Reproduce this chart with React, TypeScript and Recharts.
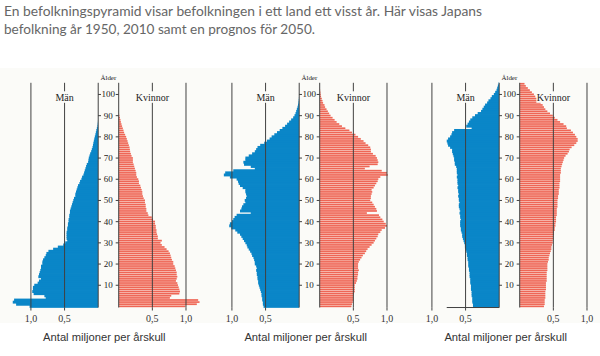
import React from 'react';
import { BarChart, Bar, XAxis, YAxis, ReferenceLine } from 'recharts';

// Age categories 0..105
const ages = [
  0, 1, 2, 3, 4, 5, 6, 7, 8, 9, 10, 11, 12, 13, 14, 15, 16, 17, 18, 19,
  20, 21, 22, 23, 24, 25, 26, 27, 28, 29, 30, 31, 32, 33, 34, 35, 36, 37, 38, 39,
  40, 41, 42, 43, 44, 45, 46, 47, 48, 49, 50, 51, 52, 53, 54, 55, 56, 57, 58, 59,
  60, 61, 62, 63, 64, 65, 66, 67, 68, 69, 70, 71, 72, 73, 74, 75, 76, 77, 78, 79,
  80, 81, 82, 83, 84, 85, 86, 87, 88, 89, 90, 91, 92, 93, 94, 95, 96, 97, 98, 99,
  100, 101, 102, 103, 104, 105,
];

// Millions per one-year cohort
const male1950 = [
  1.02, 1.22, 1.27, 1.25, 0.78, 0.8, 0.96, 0.98, 0.97, 0.97,
  0.95, 0.9, 0.88, 0.85, 0.89, 0.88, 0.87, 0.86, 0.85, 0.85,
  0.83, 0.83, 0.82, 0.8, 0.78, 0.77, 0.74, 0.67, 0.6, 0.52,
  0.49, 0.46, 0.47, 0.47, 0.47, 0.47, 0.46, 0.46, 0.45, 0.45,
  0.44, 0.44, 0.43, 0.43, 0.42, 0.42, 0.41, 0.4, 0.39, 0.38,
  0.37, 0.36, 0.34, 0.34, 0.33, 0.32, 0.31, 0.3, 0.28, 0.27,
  0.25, 0.24, 0.22, 0.21, 0.2, 0.19, 0.18, 0.17, 0.15, 0.145,
  0.14, 0.13, 0.12, 0.105, 0.095, 0.085, 0.078, 0.072, 0.065, 0.058,
  0.05, 0.042, 0.035, 0.028, 0.02, 0.012, 0.008, 0.005, 0.003, 0.002,
  0.001, 0, 0, 0, 0, 0, 0, 0, 0, 0,
  0, 0, 0, 0, 0, 0,
];
const female1950 = [
  0.99, 1.16, 1.2, 1.18, 0.76, 0.78, 0.9, 0.91, 0.9, 0.89,
  0.88, 0.87, 0.85, 0.86, 0.87, 0.86, 0.86, 0.85, 0.84, 0.83,
  0.81, 0.81, 0.79, 0.78, 0.77, 0.76, 0.74, 0.71, 0.68, 0.64,
  0.62, 0.64, 0.58, 0.58, 0.57, 0.56, 0.56, 0.55, 0.55, 0.54,
  0.54, 0.51, 0.49, 0.44, 0.43, 0.41, 0.41, 0.4, 0.4, 0.39,
  0.39, 0.37, 0.36, 0.35, 0.35, 0.34, 0.33, 0.32, 0.3, 0.3,
  0.29, 0.27, 0.26, 0.26, 0.25, 0.24, 0.23, 0.22, 0.21, 0.21,
  0.21, 0.19, 0.18, 0.17, 0.165, 0.16, 0.15, 0.14, 0.13, 0.12,
  0.11, 0.095, 0.08, 0.07, 0.06, 0.05, 0.04, 0.032, 0.025, 0.018,
  0.01, 0.005, 0.002, 0, 0, 0, 0, 0, 0, 0,
  0, 0, 0, 0, 0, 0,
];
const male2010 = [
  0.53, 0.54, 0.54, 0.55, 0.55, 0.56, 0.56, 0.57, 0.58, 0.59,
  0.6, 0.61, 0.61, 0.62, 0.62, 0.63, 0.63, 0.64, 0.63, 0.64,
  0.66, 0.66, 0.67, 0.68, 0.7, 0.71, 0.73, 0.75, 0.77, 0.78,
  0.8, 0.82, 0.84, 0.86, 0.88, 0.92, 0.95, 1.01, 1.04, 1.03,
  1.0, 0.98, 0.96, 0.93, 0.72, 0.88, 0.86, 0.85, 0.83, 0.8,
  0.81, 0.79, 0.78, 0.79, 0.8, 0.8, 0.84, 0.88, 0.9, 0.91,
  0.93, 1.03, 1.12, 1.1, 0.98, 0.66, 0.72, 0.82, 0.83, 0.8,
  0.8, 0.75, 0.7, 0.66, 0.64, 0.62, 0.58, 0.52, 0.48, 0.44,
  0.41, 0.37, 0.33, 0.29, 0.25, 0.21, 0.18, 0.15, 0.12, 0.09,
  0.07, 0.055, 0.045, 0.035, 0.025, 0.018, 0.012, 0.008, 0.005, 0.003,
  0.002, 0.001, 0, 0, 0, 0,
];
const female2010 = [
  0.47, 0.48, 0.49, 0.5, 0.5, 0.5, 0.51, 0.52, 0.52, 0.52,
  0.52, 0.54, 0.55, 0.56, 0.56, 0.57, 0.57, 0.58, 0.57, 0.57,
  0.57, 0.58, 0.6, 0.62, 0.64, 0.67, 0.69, 0.71, 0.74, 0.77,
  0.8, 0.82, 0.84, 0.86, 0.87, 0.9, 0.92, 0.97, 1.0, 0.98,
  0.95, 0.93, 0.9, 0.88, 0.7, 0.85, 0.84, 0.82, 0.8, 0.78,
  0.75, 0.76, 0.76, 0.77, 0.78, 0.77, 0.8, 0.82, 0.84, 0.86,
  0.87, 0.9, 1.01, 1.0, 0.92, 0.67, 0.74, 0.86, 0.87, 0.86,
  0.85, 0.83, 0.79, 0.76, 0.76, 0.75, 0.72, 0.68, 0.65, 0.61,
  0.57, 0.53, 0.48, 0.44, 0.38, 0.33, 0.29, 0.25, 0.22, 0.19,
  0.16, 0.14, 0.12, 0.1, 0.08, 0.07, 0.05, 0.04, 0.03, 0.02,
  0.015, 0.01, 0.006, 0.003, 0, 0,
];
const male2050 = [
  0.39, 0.39, 0.4, 0.4, 0.4, 0.41, 0.41, 0.41, 0.42, 0.42,
  0.42, 0.43, 0.43, 0.43, 0.44, 0.44, 0.44, 0.45, 0.45, 0.46,
  0.46, 0.46, 0.47, 0.47, 0.48, 0.48, 0.49, 0.5, 0.51, 0.51,
  0.52, 0.53, 0.54, 0.55, 0.55, 0.56, 0.57, 0.57, 0.58, 0.58,
  0.58, 0.57, 0.58, 0.58, 0.59, 0.58, 0.59, 0.6, 0.6, 0.59,
  0.6, 0.6, 0.61, 0.6, 0.61, 0.61, 0.62, 0.61, 0.62, 0.62,
  0.62, 0.63, 0.62, 0.63, 0.63, 0.63, 0.64, 0.66, 0.66, 0.67,
  0.67, 0.68, 0.69, 0.7, 0.7, 0.73, 0.76, 0.77, 0.78, 0.76,
  0.73, 0.71, 0.7, 0.67, 0.41, 0.49, 0.47, 0.45, 0.43, 0.4,
  0.36, 0.32, 0.27, 0.25, 0.23, 0.21, 0.18, 0.16, 0.13, 0.11,
  0.08, 0.06, 0.04, 0.03, 0.02, 0.01,
];
const female2050 = [
  0.36, 0.37, 0.37, 0.37, 0.38, 0.38, 0.38, 0.38, 0.39, 0.39,
  0.39, 0.39, 0.4, 0.4, 0.4, 0.4, 0.4, 0.41, 0.41, 0.41,
  0.41, 0.42, 0.43, 0.43, 0.44, 0.45, 0.46, 0.47, 0.47, 0.48,
  0.49, 0.49, 0.5, 0.5, 0.51, 0.51, 0.52, 0.52, 0.53, 0.53,
  0.54, 0.54, 0.54, 0.55, 0.55, 0.55, 0.55, 0.56, 0.56, 0.56,
  0.56, 0.57, 0.57, 0.58, 0.58, 0.58, 0.59, 0.59, 0.59, 0.6,
  0.6, 0.6, 0.6, 0.61, 0.61, 0.61, 0.62, 0.63, 0.64, 0.65,
  0.66, 0.68, 0.71, 0.73, 0.74, 0.77, 0.81, 0.84, 0.86, 0.86,
  0.84, 0.82, 0.79, 0.76, 0.7, 0.69, 0.65, 0.6, 0.56, 0.52,
  0.49, 0.45, 0.41, 0.38, 0.36, 0.34, 0.31, 0.28, 0.26, 0.23,
  0.21, 0.18, 0.15, 0.12, 0.09, 0.07,
];

const xTicks = [0.5, 1];
const xTickLabels: Record<string, string> = { '0.5': '0,5', '1': '1,0' };
const ageTickStep = 10;
const titleLine1 = 'En befolkningspyramid visar befolkningen i ett land ett visst år. Här visas Japans';
const titleLine2 = 'befolkning år 1950, 2010 samt en prognos för 2050.';
const maleLabel = 'Män';
const femaleLabel = 'Kvinnor';
const ageLabel = 'Ålder';
const xAxisTitle = 'Antal miljoner per årskull';

// ---- layout & style ----
const BLUE = '#0a86c8';
const RED = '#ee6656';
const PINK = '#f8b6aa';
const LINE = '#404040';
const BG = '#fbfbf8';
const SERIF = '"Liberation Serif", "DejaVu Serif", serif';
const SANS = '"Liberation Sans", Arial, sans-serif';

const S = 67.3; // px per million
const BAND = 2.12;
const PLOT_TOP = 82.8;
const PLOT_H = ages.length * BAND;
const CHART_TOP = 70;
const MT = PLOT_TOP - CHART_TOP;
const XH = 24;
const CH = MT + PLOT_H + XH;
const M_MAX = 1.4;
const F_MAX = 1.3;
const GAP = 20.7;

const fmt = (v: number) => xTickLabels[String(v)] ?? String(v);

const tickStyle = { fontSize: 10, fill: '#333', fontFamily: SERIF };

const normRect = (props: any) => {
  const x = Number(props.x);
  const y = Number(props.y);
  const w = Number(props.width);
  const h = Number(props.height);
  if (!isFinite(x) || !isFinite(y) || !isFinite(w) || !isFinite(h) || w === 0) return null;
  return { x: w < 0 ? x + w : x, y: h < 0 ? y + h : y, w: Math.abs(w), h: Math.abs(h) };
};

// solid bar: extends the library's rectangle slightly so neighbouring cohorts merge
const SolidBar = (props: any) => {
  const r = normRect(props);
  if (!r) return <g />;
  return <rect x={r.x} y={r.y - 0.45} width={r.w} height={r.h + 0.9} fill={BLUE} />;
};

// striped bar: light band with a darker line in the middle
const StripeBar = (props: any) => {
  const r = normRect(props);
  if (!r) return <g />;
  const cy = r.y + r.h / 2;
  return (
    <g>
      <rect x={r.x} y={r.y} width={r.w} height={r.h} fill={PINK} />
      <rect x={r.x} y={cy - 0.72} width={r.w} height={1.44} fill={RED} />
    </g>
  );
};

const lineLabel = (text: string, w: number) => (props: any) => {
  const vb = props.viewBox || {};
  const x = vb.x;
  const y = vb.y;
  return (
    <g>
      <rect x={x - w / 2} y={y + 8.5} width={w} height={11.5} fill={BG} />
      <text x={x} y={y + 14.5} textAnchor="middle" dominantBaseline="central" fontSize={10} fontFamily={SERIF} fill="#222">
        {text}
      </text>
    </g>
  );
};

const AgeTick = (props: any) => {
  const { y, payload } = props;
  const v = Number(payload?.value);
  if (!v || v % ageTickStep !== 0) return <g />;
  return (
    <g>
      <line x1={0} x2={3} y1={y} y2={y} stroke={LINE} strokeWidth={1} />
      <line x1={GAP - 3} x2={GAP} y1={y} y2={y} stroke={LINE} strokeWidth={1} />
      <text x={GAP / 2} y={y} textAnchor="middle" dominantBaseline="central" fontSize={9} fontFamily={SERIF} fill="#222">
        {v}
      </text>
    </g>
  );
};

type PanelProps = { male: number[]; female: number[]; zeroX: number; baseLine?: boolean };

const Panel = ({ male, female, zeroX, baseLine }: PanelProps) => {
  const rowsM = ages.map((a, i) => ({ age: a, v: male[i] }));
  const rowsF = ages.map((a, i) => ({ age: a, v: female[i] }));
  const mW = M_MAX * S;
  const fW = F_MAX * S;
  return (
    <>
      <div style={{ position: 'absolute', left: zeroX - mW, top: CHART_TOP }}>
        <BarChart
          width={mW + 1}
          height={CH}
          data={rowsM}
          layout="vertical"
          margin={{ top: MT, right: 1, bottom: 0, left: 0 }}
          barCategoryGap={0}
        >
          <XAxis
            type="number"
            domain={[0, M_MAX]}
            reversed
            allowDataOverflow
            ticks={xTicks}
            tickFormatter={fmt}
            axisLine={false}
            tickSize={3}
            tickMargin={4}
            height={XH}
            tick={tickStyle}
            tickLine={{ stroke: LINE }}
          />
          <YAxis type="category" dataKey="age" reversed hide />
          <Bar dataKey="v" fill={BLUE} shape={SolidBar} isAnimationActive={false} />
          <ReferenceLine x={0} stroke={LINE} strokeWidth={1} />
          <ReferenceLine x={0.5} stroke={LINE} strokeWidth={1} label={lineLabel(maleLabel, 20)} />
          <ReferenceLine x={1} stroke={LINE} strokeWidth={1} />
          {baseLine ? (
            <ReferenceLine
              segment={[{ x: 0, y: 0 }, { x: 0.78, y: 0 }]}
              position="end"
              stroke={LINE}
              strokeWidth={1}
            />
          ) : null}
        </BarChart>
      </div>
      <div style={{ position: 'absolute', left: zeroX, top: CHART_TOP }}>
        <BarChart
          width={GAP + fW + 2}
          height={CH}
          data={rowsF}
          layout="vertical"
          margin={{ top: MT, right: 2, bottom: 0, left: 0 }}
          barCategoryGap={0}
        >
          <XAxis
            type="number"
            domain={[0, F_MAX]}
            allowDataOverflow
            ticks={xTicks}
            tickFormatter={fmt}
            axisLine={false}
            tickSize={3}
            tickMargin={4}
            height={XH}
            tick={tickStyle}
            tickLine={{ stroke: LINE }}
          />
          <YAxis
            type="category"
            dataKey="age"
            reversed
            width={GAP}
            interval={0}
            tickLine={false}
            axisLine={{ stroke: LINE }}
            tick={AgeTick}
            label={{ value: ageLabel, position: 'top', offset: 3, fontSize: 7, fontFamily: SERIF, fill: '#222' }}
          />
          <Bar dataKey="v" fill={RED} barSize={BAND} shape={StripeBar} isAnimationActive={false} />
          <ReferenceLine x={0.5} stroke={LINE} strokeWidth={1} label={lineLabel(femaleLabel, 34)} />
          <ReferenceLine x={1} stroke={LINE} strokeWidth={1} />
        </BarChart>
      </div>
      <div
        style={{
          position: 'absolute',
          left: zeroX + GAP / 2 - 4 - 100,
          top: 330,
          width: 200,
          textAlign: 'center',
          fontFamily: SANS,
          fontSize: 11.2,
          color: '#333',
          lineHeight: '14px',
        }}
      >
        {xAxisTitle}
      </div>
    </>
  );
};

export default function App() {
  return (
    <div style={{ position: 'absolute', left: 0, top: 0, width: 600, height: 356, background: '#fff', overflow: 'hidden' }}>
      <div style={{ position: 'absolute', left: 0, top: 68, width: 600, height: 255, background: BG }} />
      <svg width={600} height={40} style={{ position: 'absolute', left: 0, top: 0 }}>
        <text x={4} y={15.5} fontFamily="Lato, 'Open Sans', sans-serif" fontSize={14} fill="#666" textLength={478} lengthAdjust="spacingAndGlyphs">
          {titleLine1}
        </text>
        <text x={4} y={33.5} fontFamily="Lato, 'Open Sans', sans-serif" fontSize={14} fill="#666" textLength={311} lengthAdjust="spacingAndGlyphs">
          {titleLine2}
        </text>
      </svg>
      <Panel male={male1950} female={female1950} zeroX={98} />
      <Panel male={male2010} female={female2010} zeroX={299.3} />
      <Panel male={male2050} female={female2050} zeroX={499.3} baseLine />
    </div>
  );
}
